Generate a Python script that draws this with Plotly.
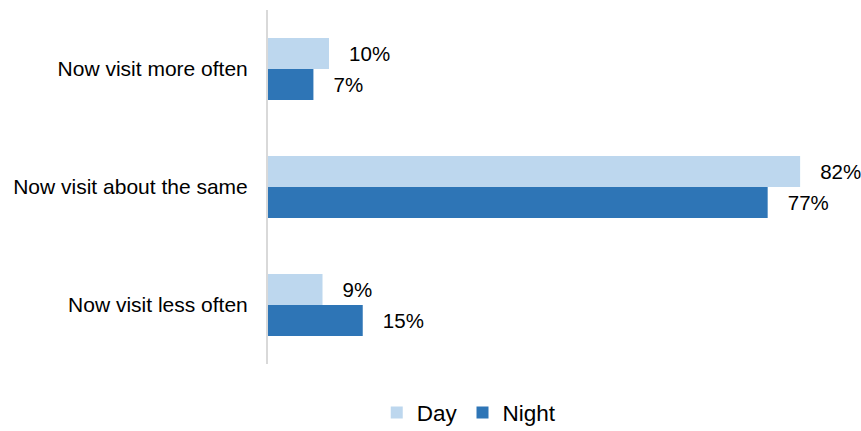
import plotly.graph_objects as go

categories = ["Now visit more often", "Now visit about the same", "Now visit less often"]
day_values = [9.4, 82.0, 8.4]
night_values = [7.0, 77.0, 14.6]
day_labels = ["10%", "82%", "9%"]
night_labels = ["7%", "77%", "15%"]

DAY_COLOR = "#BDD7EE"
NIGHT_COLOR = "#2E75B6"
FONT = "Liberation Sans, Arial, sans-serif"
PAD = "\u00a0\u00a0\u00a0"

fig = go.Figure()
fig.add_trace(go.Bar(
    y=categories, x=day_values, orientation="h", name="Day",
    marker=dict(color=DAY_COLOR, line=dict(width=0)),
    text=[PAD + t for t in day_labels], textposition="outside",
    textfont=dict(family=FONT, size=20.5, color="#000000"),
    constraintext="none", cliponaxis=False, hoverinfo="skip",
))
fig.add_trace(go.Bar(
    y=categories, x=night_values, orientation="h", name="Night",
    marker=dict(color=NIGHT_COLOR, line=dict(width=0)),
    text=[PAD + t for t in night_labels], textposition="outside",
    textfont=dict(family=FONT, size=20.5, color="#000000"),
    constraintext="none", cliponaxis=False, hoverinfo="skip",
))

fig.update_layout(
    width=861, height=431,
    margin=dict(l=268, r=20, t=10, b=67),
    paper_bgcolor="white", plot_bgcolor="white",
    barmode="group", bargap=0.475, bargroupgap=0,
    font=dict(family=FONT, color="#000000"),
    showlegend=True,
    legend=dict(
        orientation="h", xref="container", yref="container",
        x=0.545, y=0.042, xanchor="center", yanchor="middle",
        font=dict(family=FONT, size=22.5, color="#000000"),
        itemwidth=30, tracegroupgap=0,
    ),
)
fig.update_xaxes(range=[0, 88.3], visible=False, showgrid=False, zeroline=False)
fig.update_yaxes(
    autorange="reversed", showgrid=False, zeroline=False,
    showline=True, linecolor="#D9D9D9", linewidth=2,
    ticks="", ticklabelstandoff=14,
    tickfont=dict(family=FONT, size=21, color="#000000"),
)

fig.write_html("out.html")
